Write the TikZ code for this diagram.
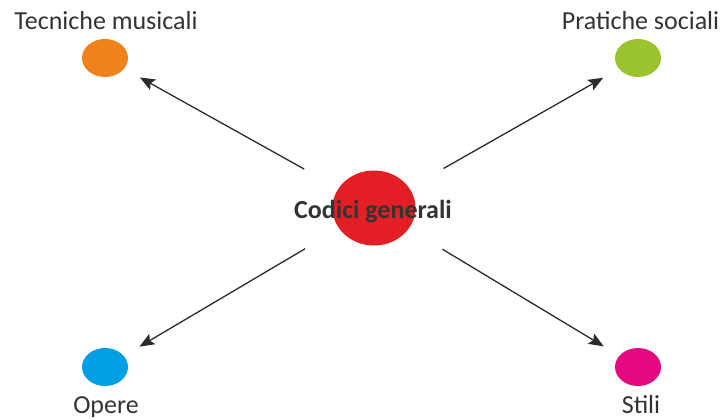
\documentclass[tikz,border=0pt]{standalone}
\usepackage{fontspec}
\setmainfont{Carlito}
\usetikzlibrary{shapes.geometric,arrows.meta}
\definecolor{corange}{HTML}{F0821E}
\definecolor{cgreen}{HTML}{9BC32D}
\definecolor{cblue}{HTML}{009FE3}
\definecolor{cmagenta}{HTML}{E5097F}
\definecolor{cred}{HTML}{E31E24}
\definecolor{ctext}{HTML}{333333}
\definecolor{carrow}{HTML}{2B2B2B}
\tikzset{
  dot/.style={ellipse, draw=none, inner sep=0pt, minimum width=46pt, minimum height=38pt},
  lbl/.style={anchor=base, text=ctext, inner sep=0pt, font=\fontsize{26}{30}\selectfont},
  arr/.style={draw=carrow, line width=1.3pt, -{Stealth[length=15pt,width=12pt,inset=3pt]}, shorten <=80pt, shorten >=40pt}
}
\begin{document}
\begin{tikzpicture}[x=1pt,y=-1pt]
\useasboundingbox (0,0) rectangle (723,420);
\node[ellipse, fill=cred, inner sep=0pt, minimum width=83pt, minimum height=75pt] (c) at (374,208) {};
\node[dot, fill=corange] (o) at (105,58) {};
\node[dot, fill=cgreen] (g) at (638,58) {};
\node[dot, fill=cblue] (b) at (105,367) {};
\node[dot, fill=cmagenta] (m) at (638,367) {};
\node[lbl, font=\fontsize{26}{30}\selectfont\bfseries] (ct) at (373,218) {Codici generali};
\node[lbl] (ot) at (106,30) {Tecniche musicali};
\node[lbl] (gt) at (640.5,30) {Pratiche sociali};
\node[lbl] (bt) at (106,413) {Opere};
\node[lbl] (mt) at (641,413) {Stili};
\draw[arr] (c.center) -- (o.center);
\draw[arr] (c.center) -- (g.center);
\draw[arr] (c.center) -- (b.center);
\draw[arr] (c.center) -- (m.center);
\end{tikzpicture}
\end{document}
